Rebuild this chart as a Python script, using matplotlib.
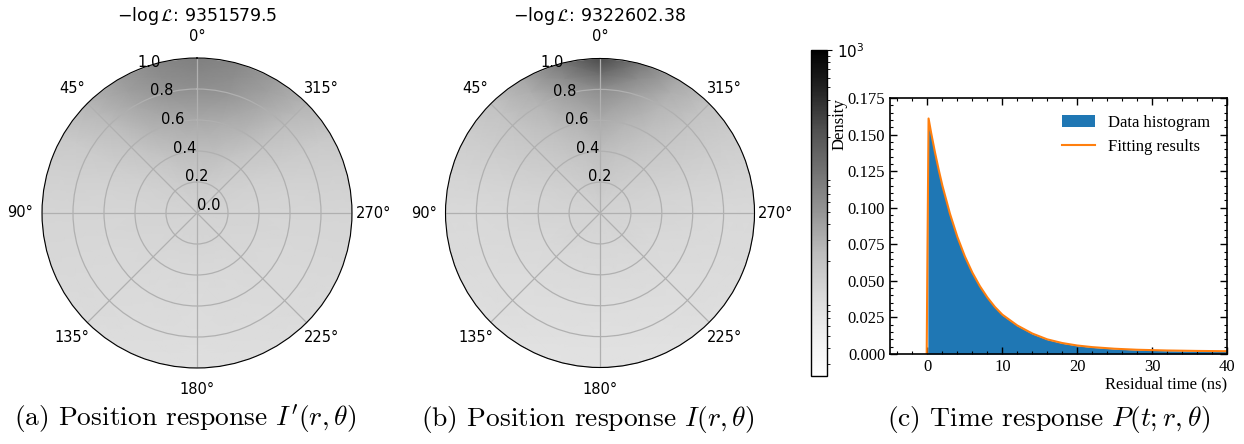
import numpy as np
import matplotlib.pyplot as plt
from matplotlib.colors import LogNorm
from matplotlib.ticker import AutoMinorLocator, LogLocator, NullFormatter

# polar response maps, rows = theta (deg, 0..180, mirrored for 180..360), cols = r
theta_half = [0, 15, 30, 45, 60, 75, 90, 105, 120, 135, 150, 165, 180]
r_nodes = [0.0, 0.2, 0.4, 0.6, 0.8, 0.9, 1.0]

resp_a = [
    [13, 16.0, 23.0, 35.0, 57.0, 68.0, 80.0],
    [13, 16.0, 22.0, 32.0, 50.0, 58.0, 66.0],
    [13, 15.0, 19.0, 26.0, 36.0, 40.0, 44.0],
    [13, 14.0, 16.0, 19.0, 23.0, 25.0, 27.0],
    [13, 13.5, 14.0, 15.0, 16.0, 16.5, 17.0],
    [13, 13.0, 13.0, 13.0, 13.5, 13.5, 14.0],
    [13, 12.5, 12.0, 12.0, 12.0, 12.0, 12.0],
    [13, 12.5, 12.0, 11.5, 11.5, 11.5, 11.5],
    [13, 12.0, 11.5, 11.0, 11.0, 11.0, 10.5],
    [13, 12.0, 11.5, 11.0, 10.5, 10.5, 10.0],
    [13, 12.0, 11.0, 10.5, 10.0, 10.0, 9.5],
    [13, 12.0, 11.0, 10.5, 10.0, 9.5, 9.0],
    [13, 12.0, 11.0, 10.0, 9.5, 9.0, 9.0],
]
resp_b = [
    [13, 17.0, 22.0, 33.0, 60.0, 120.0, 250.0],
    [13, 16.0, 20.0, 27.0, 42.0, 62.0, 90.0],
    [13, 15.0, 17.5, 21.0, 26.0, 31.0, 36.0],
    [13, 14.0, 15.5, 17.0, 18.5, 19.5, 20.0],
    [13, 13.5, 14.0, 14.5, 15.0, 15.0, 15.0],
    [13, 13.0, 12.5, 12.5, 12.5, 12.5, 12.5],
    [13, 12.5, 12.0, 11.5, 11.0, 11.0, 11.0],
    [13, 12.0, 11.5, 11.0, 10.5, 10.5, 10.5],
    [13, 12.0, 11.0, 10.5, 10.0, 10.0, 9.5],
    [13, 12.0, 11.0, 10.0, 9.5, 9.5, 9.0],
    [13, 11.5, 10.5, 10.0, 9.0, 9.0, 8.5],
    [13, 11.5, 10.5, 9.5, 9.0, 8.5, 8.0],
    [13, 11.5, 10.5, 9.5, 8.5, 8.5, 8.0],
]
nll_a = "9351579.5"
nll_b = "9322602.38"
rticks_a = [0.0, 0.2, 0.4, 0.6, 0.8, 1.0]
rticks_b = [0.2, 0.4, 0.6, 0.8, 1.0]

# residual time distribution
t_fit = [-0.1, 0.0, 0.15, 0.5, 1, 1.5, 2, 3, 4, 5, 6, 7, 8, 9, 10, 12, 14,
         16, 18, 20, 22, 25, 28, 32, 36, 40]
p_fit = [0.0, 0.068, 0.161, 0.151, 0.138, 0.126, 0.115, 0.096, 0.080, 0.0667,
         0.0556, 0.0464, 0.0387, 0.0322, 0.0269, 0.0195, 0.0140, 0.0100,
         0.0075, 0.0058, 0.0047, 0.0036, 0.0029, 0.0024, 0.0021, 0.0019]
t_hist = [0.05, 0.15, 0.5, 1, 1.5, 2, 3, 4, 5, 6, 7, 8, 9, 10, 12, 14,
          16, 18, 20, 22, 25, 28, 32, 36, 40]
p_hist = [0.158, 0.160, 0.150, 0.137, 0.125, 0.114, 0.095, 0.079, 0.066,
          0.055, 0.046, 0.0383, 0.0318, 0.0265, 0.0192, 0.0137, 0.0098,
          0.0073, 0.0056, 0.0045, 0.0034, 0.0027, 0.0022, 0.0019, 0.0017]

W, H = 1244, 444
fig = plt.figure(figsize=(W / 100, H / 100), dpi=100)
norm = LogNorm(vmin=2.4, vmax=1000)


def polar_panel(box, table, rticks, nll):
    ax = fig.add_axes(box, projection='polar')
    th = theta_half + [360 - x for x in theta_half[-2::-1]]
    vals = np.array(table + table[-2::-1])
    T, R = np.meshgrid(np.radians(th), r_nodes, indexing='ij')
    m = ax.pcolormesh(T, R, vals, cmap='Greys', norm=norm, shading='gouraud')
    ax.set_theta_zero_location('N')
    ax.set_ylim(0, 1)
    ax.set_rticks(rticks)
    ax.set_facecolor('#d8d8d8')
    ax.grid(True, color='#b0b0b0', lw=0.9)
    ax.tick_params(labelsize=10.5)
    ax.tick_params(axis='x', pad=5)
    cx = box[0] + box[2] / 2
    fig.text(cx, 1 - 16 / H, r'$-\log\mathcal{L}$: ' + nll,
             ha='center', va='center', fontsize=12.5)
    return m


mesh_a = polar_panel([42 / W, 76 / H, 310 / W, 310 / H], resp_a, rticks_a, nll_a)
polar_panel([445.5 / W, 76 / H, 309 / W, 310 / H], resp_b, rticks_b, nll_b)

# colour scale
cax = fig.add_axes([811 / W, (H - 376) / H, 16 / W, 326 / H])
cb = fig.colorbar(mesh_a, cax=cax)
cb.set_ticks([1000])
cb.ax.yaxis.set_minor_locator(LogLocator(base=10, subs=np.arange(2, 10)))
cb.ax.yaxis.set_minor_formatter(NullFormatter())
cb.ax.tick_params(labelsize=11)
cb.ax.tick_params(which='minor', length=2.5)
cb.outline.set_linewidth(1.0)

# time response
serif = 'Liberation Serif'
ax = fig.add_axes([890 / W, (H - 354) / H, 337 / W, 256 / H])
ax.fill_between(t_hist, p_hist, color='#1f77b4', lw=0, label='Data histogram')
ax.plot(t_fit, p_fit, color='#ff7f0e', lw=1.5, label='Fitting results')
ax.set_xlim(-5, 40)
ax.set_ylim(0, 0.175)
ax.set_xticks([0, 10, 20, 30, 40])
ax.set_yticks(np.arange(0, 0.176, 0.025))
ax.xaxis.set_minor_locator(AutoMinorLocator(5))
ax.yaxis.set_minor_locator(AutoMinorLocator(5))
ax.tick_params(which='both', direction='in', top=True, right=True,
               labelsize=12, labelfontfamily=serif)
ax.tick_params(which='major', length=5, width=1)
ax.tick_params(which='minor', length=2.5, width=0.8)
for s in ax.spines.values():
    s.set_linewidth(1.2)
ax.set_xlabel('Residual time (ns)', loc='right', fontsize=12, family=serif,
              labelpad=1)
ax.set_ylabel('Density', loc='top', fontsize=12, family=serif)
ax.yaxis.set_label_coords(-0.125, 1.0)
ax.legend(loc='upper right', frameon=False, prop={'family': serif, 'size': 12},
          handlelength=2.0, borderaxespad=0.6)

# sub-captions
caps = [(185, r'(a) Position response $I^{\prime}(r,\theta)$'),
        (588, r'(b) Position response $I(r,\theta)$'),
        (1049, r'(c) Time response $P(t;r,\theta)$')]
for x, s in caps:
    fig.text(x / W, 1 - 419 / H, s, ha='center', va='center', fontsize=19.8,
             family='cmr10', math_fontfamily='cm')

fig.savefig('out.png', dpi=100)
